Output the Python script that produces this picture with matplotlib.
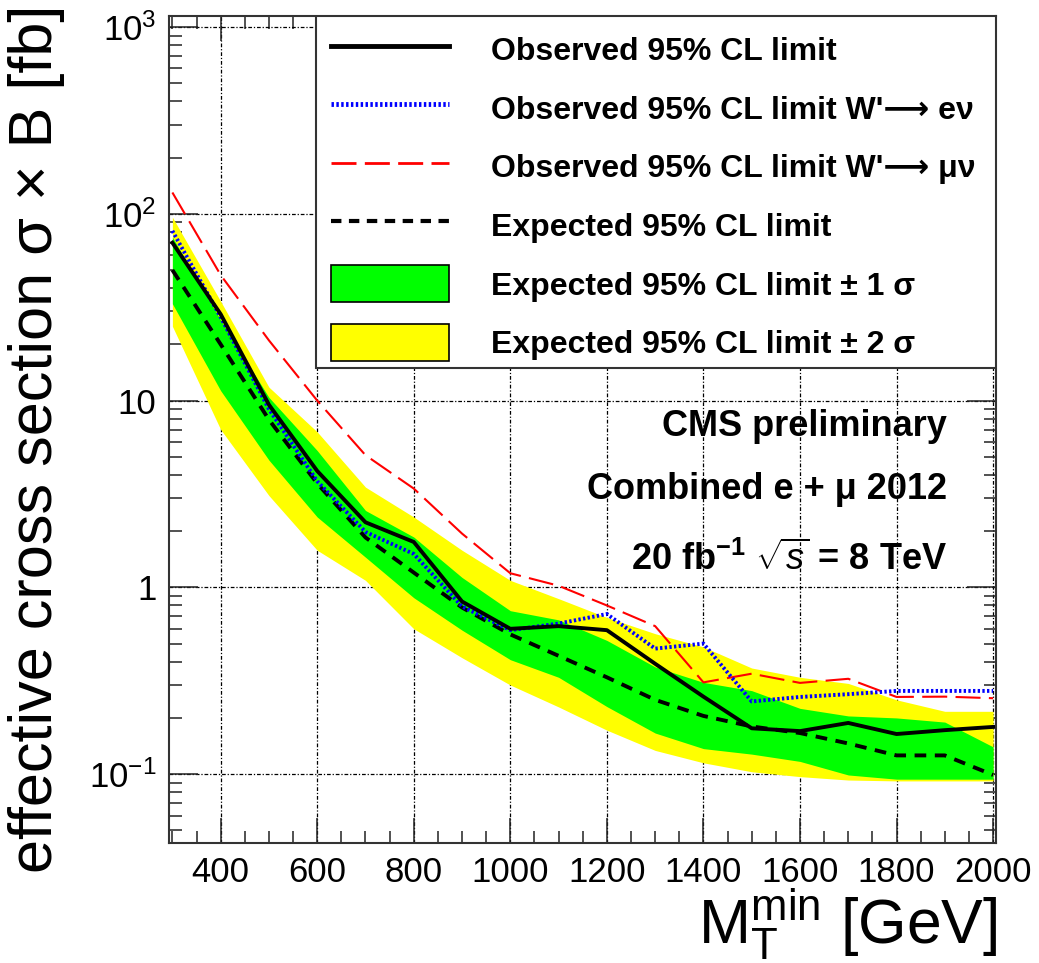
import numpy as np
import matplotlib
matplotlib.use("Agg")
import matplotlib.pyplot as plt
from matplotlib.lines import Line2D
from matplotlib.patches import Patch, Rectangle
from matplotlib.ticker import FixedLocator, FixedFormatter, MultipleLocator, LogLocator, NullFormatter

plt.rcParams['font.family'] = ['Liberation Sans', 'DejaVu Sans']
plt.rcParams['mathtext.fontset'] = 'custom'
plt.rcParams['mathtext.rm'] = 'Liberation Sans'
plt.rcParams['mathtext.it'] = 'Liberation Sans:italic'
plt.rcParams['mathtext.bf'] = 'Liberation Sans:bold'

# data -----------------------------------------------------------------
mass = [300, 400, 500, 600, 700, 800, 900, 1000, 1100, 1200,
        1300, 1400, 1500, 1600, 1700, 1800, 1900, 2000]
obs = [70, 29, 9.5, 4.2, 2.23, 1.75, 0.84, 0.60, 0.62, 0.59,
       0.39, 0.26, 0.176, 0.17, 0.188, 0.164, 0.172, 0.179]
obs_e = [81, 28, 9.0, 3.7, 1.98, 1.51, 0.79, 0.59, 0.64, 0.72,
         0.47, 0.50, 0.245, 0.259, 0.268, 0.279, 0.279, 0.279]
obs_mu = [130, 47, 21, 10, 5.1, 3.38, 1.94, 1.19, 1.02, 0.80,
          0.62, 0.31, 0.345, 0.308, 0.324, 0.259, 0.26, 0.255]
exp = [50, 20, 7.9, 3.6, 1.85, 1.2, 0.78, 0.56, 0.43, 0.33,
       0.25, 0.205, 0.18, 0.166, 0.146, 0.126, 0.126, 0.099]
up1 = [75, 27, 10.4, 5.4, 2.58, 1.86, 1.13, 0.75, 0.67, 0.52,
       0.375, 0.31, 0.28, 0.225, 0.205, 0.2, 0.19, 0.14]
lo1 = [33, 11.3, 4.8, 2.38, 1.45, 0.88, 0.59, 0.41, 0.33, 0.23,
       0.166, 0.137, 0.128, 0.117, 0.099, 0.094, 0.094, 0.094]
up2 = [96, 34, 11.8, 6.8, 3.44, 2.38, 1.58, 1.09, 0.87, 0.69,
       0.565, 0.48, 0.37, 0.33, 0.306, 0.25, 0.217, 0.217]
lo2 = [25, 7.0, 3.1, 1.58, 1.09, 0.6, 0.42, 0.30, 0.229, 0.172,
       0.134, 0.115, 0.103, 0.097, 0.093, 0.092, 0.092, 0.092]

xticks = [400, 600, 800, 1000, 1200, 1400, 1600, 1800, 2000]
yticks = [0.1, 1, 10, 100, 1000]
ytick_labels = ['$10^{-1}$', '1', '10', '$10^{2}$', '$10^{3}$']

labels = ["Observed 95% CL limit",
          "Observed 95% CL limit W'\u27f6 e\u03bd",
          "Observed 95% CL limit W'\u27f6 \u03bc\u03bd",
          "Expected 95% CL limit",
          "Expected 95% CL limit \u00b1 1 \u03c3",
          "Expected 95% CL limit \u00b1 2 \u03c3"]

# figure -----------------------------------------------------------------
fig = plt.figure(figsize=(10.39, 9.63), dpi=100)
ax = fig.add_axes([169/1039, 1-843/963, 827/1039, 827/963])

ax.fill_between(mass, lo2, up2, color='#ffff00', lw=0, zorder=2)
ax.fill_between(mass, lo1, up1, color='#00ff00', lw=0, zorder=3)
ax.plot(mass, exp, color='black', lw=2.8, ls=(0, (3, 2.2)), zorder=4)
ax.plot(mass, obs_mu, color='#ff0000', lw=1.5, ls=(0, (12, 4)), zorder=5)
ax.plot(mass, obs_e, color='#0000ff', lw=2.8, ls=(0, (0.6, 0.6)), zorder=6)
ax.plot(mass, obs, color='black', lw=2.8, zorder=7)

ax.set_yscale('log')
ax.set_xlim(293, 2006)
ax.set_ylim(0.0428, 1145)

ax.xaxis.set_major_locator(FixedLocator(xticks))
ax.xaxis.set_minor_locator(MultipleLocator(50))
ax.yaxis.set_major_locator(FixedLocator(yticks))
ax.yaxis.set_major_formatter(FixedFormatter(ytick_labels))
ax.yaxis.set_minor_locator(LogLocator(base=10, subs=np.arange(2, 10)))
ax.yaxis.set_minor_formatter(NullFormatter())

ax.tick_params(which='both', direction='in', top=True, right=True,
               labelsize=25, width=1.1, color='#222222')
ax.tick_params(axis='x', which='major', length=18, pad=9)
ax.tick_params(axis='y', which='major', length=21, pad=9)
ax.tick_params(which='minor', length=9)

ax.set_axisbelow(True)
ax.grid(which='major', color='black', lw=0.9, ls=(0, (3, 1.5, 1, 1.5)))
for s in ax.spines.values():
    s.set_linewidth(1.5)
    s.set_color('#333333')

# legend box (frame drawn separately so its size can be set)
ax.add_patch(Rectangle((0.178, 0.574), 0.822, 0.426, transform=ax.transAxes,
                       facecolor='white', edgecolor='#333333', lw=1.5,
                       zorder=9))
handles = [Line2D([], [], color='black', lw=3.5),
           Line2D([], [], color='#0000ff', lw=3.5, ls=(0, (0.5, 0.5))),
           Line2D([], [], color='#ff0000', lw=2, ls=(0, (9, 3))),
           Line2D([], [], color='black', lw=3, ls=(0, (2.5, 1.8))),
           Patch(facecolor='#00ff00', edgecolor='black', lw=1.2),
           Patch(facecolor='#ffff00', edgecolor='black', lw=1.2)]
leg = ax.legend(handles, labels, loc='upper left',
                bbox_to_anchor=(0.178, 1.0), frameon=False,
                borderaxespad=0, prop={'weight': 'bold', 'size': 23},
                handlelength=3.7, handleheight=1.4, handletextpad=1.3,
                labelspacing=0.68, borderpad=0.47)
leg.set_zorder(10)

ax.text(0.941, 0.504, "CMS preliminary", transform=ax.transAxes,
        ha='right', va='center', fontsize=26, fontweight='bold', zorder=11)
ax.text(0.941, 0.427, "Combined e + \u03bc 2012", transform=ax.transAxes,
        ha='right', va='center', fontsize=26, fontweight='bold', zorder=11)
ax.text(0.941, 0.342, r"20 fb$^{\mathbf{-1}}$ $\sqrt{s}$ = 8 TeV",
        transform=ax.transAxes, ha='right', va='center', fontsize=26,
        fontweight='bold', zorder=11)

fig.text(37/1039, 1-439/963, "effective cross section \u03c3 \u00d7 B [fb]",
         rotation=90, ha='center', va='center', fontsize=44)
fig.text(997/1039, 1-943/963, r"$\mathregular{M_{T}^{min}}$ [GeV]",
         ha='right', va='baseline', fontsize=45)

fig.savefig('out.png', dpi=100)
